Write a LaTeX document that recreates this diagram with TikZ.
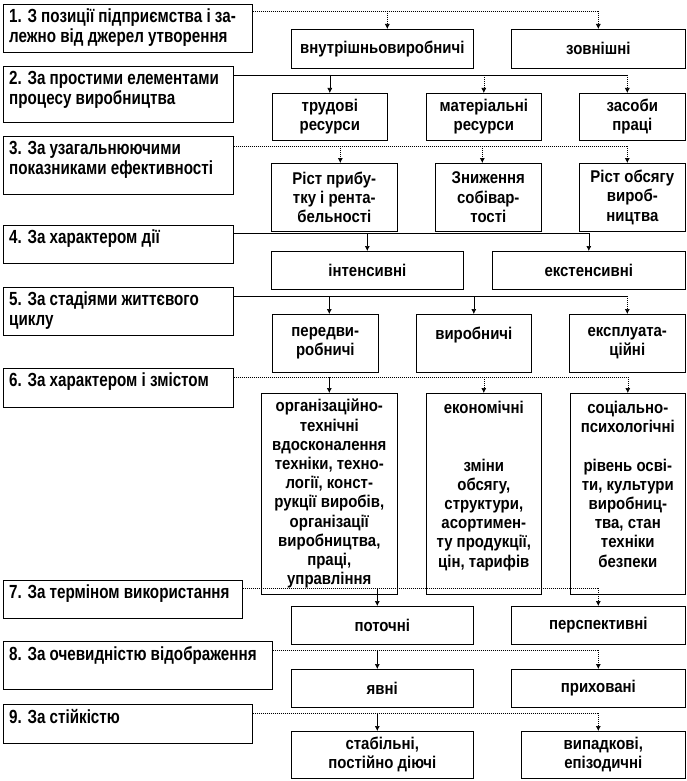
\documentclass[tikz,border=0pt]{standalone}
\usepackage{fontspec}
\setmainfont{Liberation Sans}[FakeStretch=0.8]
\newfontfamily\boxfont{Liberation Sans}[FakeStretch=0.88]
\usetikzlibrary{arrows.meta,positioning}

\tikzset{
  box/.style={draw, line width=0.6pt, anchor=north west, inner sep=0pt, align=center},
  lbl/.style={anchor=north west, inner sep=0pt, align=left, xshift=6pt, yshift=-5pt,
    font=\bfseries\fontsize{19}{20}\selectfont},
  hl/.style={line width=0.6pt},
  dl/.style={line width=0.6pt, dash pattern=on 1pt off 1pt},
  tip/.style={-{Latex[length=5pt,width=5pt]}},
}

\begin{document}
\begin{tikzpicture}[x=1pt, y=-1pt,
    every node/.style={font=\boxfont\bfseries\fontsize{17}{19.2}\selectfont}]
  \useasboundingbox[fill=white] (0,0) rectangle (687,781);

  % ознаки класифікації
  \node[box, minimum width=249, minimum height=48] (c1) at (3,4) {};
  \node[box, minimum width=230, minimum height=56] (c2) at (3,66) {};
  \node[box, minimum width=230, minimum height=58] (c3) at (3,136) {};
  \node[box, minimum width=230, minimum height=38] (c4) at (3,225) {};
  \node[box, minimum width=230, minimum height=48] (c5) at (3,287) {};
  \node[box, minimum width=230, minimum height=39] (c6) at (3,368) {};
  \node[box, minimum width=239, minimum height=38] (c7) at (3,580) {};
  \node[box, minimum width=269, minimum height=48] (c8) at (3,641) {};
  \node[box, minimum width=249, minimum height=39] (c9) at (3,704) {};
  \node[lbl] (t1) at (c1.north west) {1. З позиції підприємства і за-\\лежно від джерел утворення};
  \node[lbl] (t2) at (c2.north west) {2. За простими елементами\\процесу виробництва};
  \node[lbl] (t3) at (c3.north west) {3. За узагальнюючими\\показниками ефективності};
  \node[lbl] (t4) at (c4.north west) {4. За характером дії};
  \node[lbl] (t5) at (c5.north west) {5. За стадіями життєвого\\циклу};
  \node[lbl] (t6) at (c6.north west) {6. За характером і змістом};
  \node[lbl] (t7) at (c7.north west) {7. За терміном використання};
  \node[lbl] (t8) at (c8.north west) {8. За очевидністю відображення};
  \node[lbl] (t9) at (c9.north west) {9. За стійкістю};

  % види резервів
  \node[box, minimum width=182, minimum height=39] (r1a) at (291,29) {внутрішньовиробничі};
  \node[box, minimum width=174, minimum height=39] (r1b) at (511,29) {зовнішні};
  \node[box, minimum width=115, minimum height=47] (r2a) at (272,93) {трудові\\ресурси};
  \node[box, minimum width=115, minimum height=47] (r2b) at (426,93) {матеріальні\\ресурси};
  \node[box, minimum width=106, minimum height=47] (r2c) at (579,93) {засоби\\праці};
  \node[box, minimum width=126, minimum height=68] (r3a) at (271,163) {Ріст прибу-\\тку і рента-\\бельності};
  \node[box, minimum width=106, minimum height=68] (r3b) at (435,163) {Зниження\\собівар-\\тості};
  \node[box, minimum width=106, minimum height=68] (r3c) at (579,163) {Ріст обсягу\\вироб-\\ництва};
  \node[box, minimum width=192, minimum height=38] (r4a) at (271,251) {інтенсивні};
  \node[box, minimum width=193, minimum height=38] (r4b) at (492,251) {екстенсивні};
  \node[box, minimum width=106, minimum height=58] (r5a) at (272,314) {передви-\\робничі};
  \node[box, minimum width=115, minimum height=58] (r5b) at (416,314) {виробничі\\ \mbox{}};
  \node[box, minimum width=116, minimum height=58] (r5c) at (569,314) {експлуата-\\ційні};
  \node[box, minimum width=136, minimum height=201] (r6a) at (261,393)
    {організаційно-\\технічні\\вдосконалення\\техніки, техно-\\логії, конст-\\рукції виробів,\\організації\\виробництва,\\праці,\\управління};
  \node[box, minimum width=115, minimum height=201] (r6b) at (426,393)
    {економічні\\ \mbox{}\\ \mbox{}\\зміни\\обсягу,\\структури,\\асортимен-\\ту продукції,\\цін, тарифів\\ \mbox{}};
  \node[box, minimum width=115, minimum height=201] (r6c) at (570,393)
    {соціально-\\психологічні\\ \mbox{}\\рівень осві-\\ти, культури\\виробниц-\\тва, стан\\техніки\\безпеки\\ \mbox{}};
  \node[box, minimum width=182, minimum height=38] (r7a) at (291,606) {поточні};
  \node[box, minimum width=174, minimum height=38] (r7b) at (511,606) {перспективні};
  \node[box, minimum width=182, minimum height=38] (r8a) at (291,669) {явні};
  \node[box, minimum width=174, minimum height=38] (r8b) at (511,669) {приховані};
  \node[box, minimum width=182, minimum height=47] (r9a) at (291,731) {стабільні,\\постійно діючі};
  \node[box, minimum width=164, minimum height=47] (r9b) at (521,731) {випадкові,\\епізодичні};

  % точки входу стрілок
  \coordinate (a1a) at ([xshift=5pt]r1a.north);
  \coordinate (a2c) at ([xshift=-5pt]r2c.north);
  \coordinate (a3a) at ([xshift=6pt]r3a.north);
  \coordinate (a3b) at ([xshift=-6pt]r3b.north);
  \coordinate (a3c) at ([xshift=-5pt]r3c.north);
  \coordinate (a5a) at ([xshift=4pt]r5a.north);
  \coordinate (a7a) at ([xshift=-5pt]r7a.north);
  \coordinate (a9a) at ([xshift=-5pt]r9a.north);
  \coordinate (a9b) at ([xshift=-5pt]r9b.north);

  % з'єднання
  \draw[dl] ([yshift=-7pt]c1.north east) coordinate (h1) -- (h1 -| r1b.north);
  \draw[dl, tip] (h1 -| a1a) -- (a1a);
  \draw[dl, tip] (h1 -| r1b.north) -- (r1b.north);

  \draw[hl] ([yshift=-9pt]c2.north east) coordinate (h2) -- (h2 -| a2c);
  \draw[hl, tip] (h2 -| r2a.north) -- (r2a.north);
  \draw[dl, tip] (h2 -| r2b.north) -- (r2b.north);
  \draw[dl, tip] (h2 -| a2c) -- (a2c);

  \draw[dl] ([yshift=-10pt]c3.north east) coordinate (h3) -- (h3 -| a3c);
  \draw[dl, tip] (h3 -| a3a) -- (a3a);
  \draw[dl, tip] (h3 -| a3b) -- (a3b);
  \draw[dl, tip] (h3 -| a3c) -- (a3c);

  \draw[hl] ([yshift=-8pt]c4.north east) coordinate (h4) -- (h4 -| r4b.north);
  \draw[hl, tip] (h4 -| r4a.north) -- (r4a.north);
  \draw[hl, tip] (h4 -| r4b.north) -- (r4b.north);

  \draw[hl] ([yshift=-9pt]c5.north east) coordinate (h5) -- (h5 -| r5c.north);
  \draw[hl, tip] (h5 -| a5a) -- (a5a);
  \draw[hl, tip] (h5 -| r5b.north) -- (r5b.north);
  \draw[dl, tip] (h5 -| r5c.north) -- (r5c.north);

  \draw[dl] ([yshift=-9pt]c6.north east) coordinate (h6) -- (h6 -| r6c.north);
  \draw[hl, tip] (h6 -| r6a.north) -- (r6a.north);
  \draw[dl, tip] (h6 -| r6b.north) -- (r6b.north);
  \draw[dl, tip] (h6 -| r6c.north) -- (r6c.north);

  \draw[dl] ([yshift=-8pt]c7.north east) coordinate (h7) -- (h7 -| r7b.north);
  \draw[hl, tip] (h7 -| a7a) -- (a7a);
  \draw[dl, tip] (h7 -| r7b.north) -- (r7b.north);

  \draw[dl] ([yshift=-9pt]c8.north east) coordinate (h8) -- (h8 -| r8b.north);
  \draw[hl, tip] (h8 -| a7a) -- (r8a.north -| a7a);
  \draw[dl, tip] (h8 -| r8b.north) -- (r8b.north);

  \draw[dl] ([yshift=-9pt]c9.north east) coordinate (h9) -- (h9 -| a9b);
  \draw[hl, tip] (h9 -| a9a) -- (a9a);
  \draw[dl, tip] (h9 -| a9b) -- (a9b);
\end{tikzpicture}
\end{document}
